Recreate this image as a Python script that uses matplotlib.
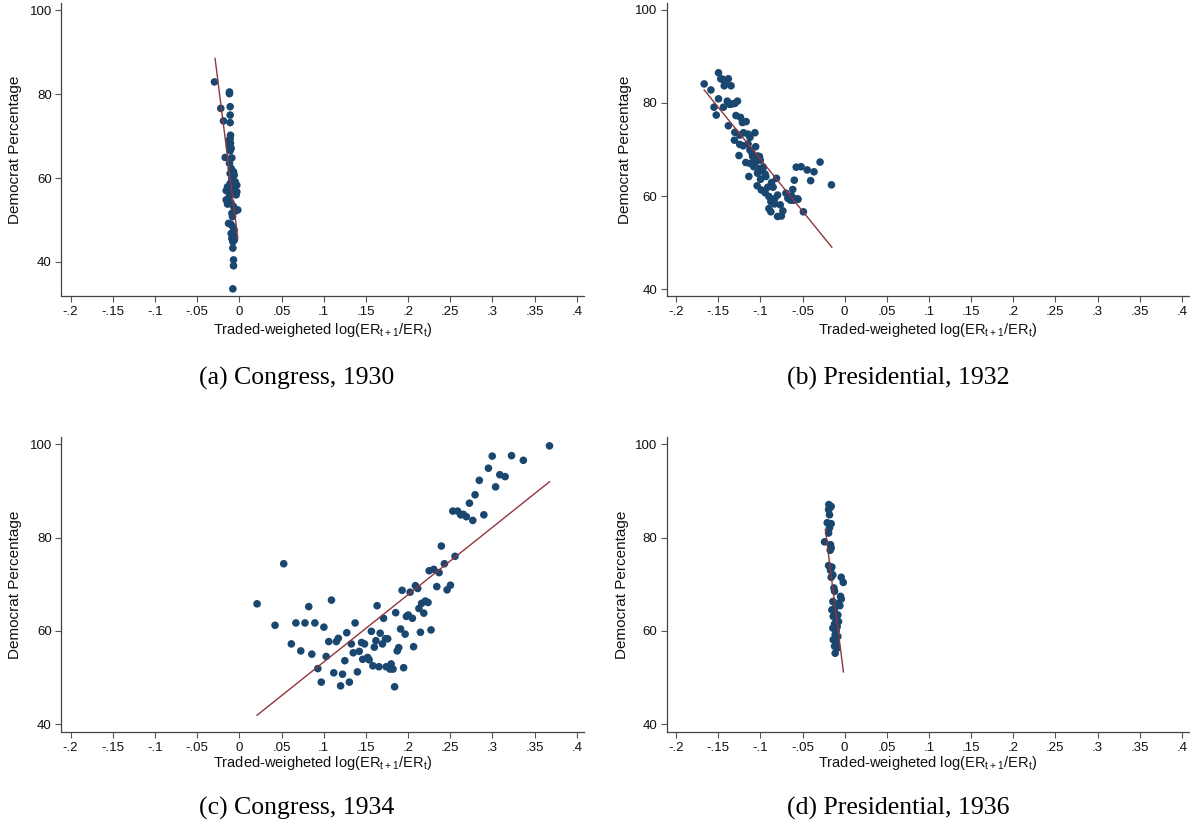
import matplotlib.pyplot as plt
import numpy as np

plt.rcParams['font.family'] = ['Liberation Sans', 'DejaVu Sans']
plt.rcParams['mathtext.default'] = 'regular'

# (a) Congress, 1930
xa = [-0.0295, -0.0220, -0.0188, -0.0168, -0.0117, -0.0117, -0.0109, -0.0109, -0.0109, -0.0105,
      -0.0109, -0.0124, -0.0105, -0.0117, -0.0097, -0.0109, -0.0089, -0.0117, -0.0097, -0.0069,
      -0.0109, -0.0061, -0.0089, -0.0049, -0.0109, -0.0030, -0.0140, -0.0069, -0.0030, -0.0156,
      -0.0089, -0.0117, -0.0038, -0.0156, -0.0128, -0.0097, -0.0140, -0.0069, -0.0018, -0.0049,
      -0.0089, -0.0081, -0.0128, -0.0101, -0.0077, -0.0061, -0.0097, -0.0069, -0.0089, -0.0061,
      -0.0077, -0.0077, -0.0069, -0.0069, -0.0077]
ya = [82.9, 76.6, 73.6, 64.9, 80.5, 80.1, 77.0, 75.0, 73.2, 70.2,
      69.4, 68.9, 68.3, 67.6, 67.1, 66.5, 64.8, 63.5, 62.3, 61.5,
      61.1, 60.7, 59.9, 59.1, 58.7, 58.3, 57.9, 57.5, 56.7, 57.0,
      56.3, 55.7, 56.0, 54.8, 54.4, 54.0, 53.8, 53.2, 52.4, 52.1,
      51.6, 50.8, 49.2, 49.0, 48.4, 47.6, 46.8, 46.4, 45.6, 45.2,
      44.8, 43.3, 40.5, 39.1, 33.6]
fit_a_x = [-0.0288, -0.0018]
fit_a_y = [88.5, 45.6]

# (b) Presidential, 1932
xb = [-0.1667, -0.1587, -0.1497, -0.1470, -0.1447, -0.1416, -0.1429, -0.1380, -0.1348, -0.1497,
      -0.1550, -0.1524, -0.1438, -0.1393, -0.1362, -0.1335, -0.1303, -0.1272, -0.1290, -0.1380,
      -0.1236, -0.1213, -0.1169, -0.1303, -0.1245, -0.1200, -0.1146, -0.1124, -0.1065, -0.1308,
      -0.1245, -0.1204, -0.1146, -0.1124, -0.1101, -0.1056, -0.1254, -0.1092, -0.1034, -0.1011,
      -0.1173, -0.1124, -0.1056, -0.1002, -0.1079, -0.1034, -0.0966, -0.1137, -0.1034, -0.0975,
      -0.0944, -0.0998, -0.0935, -0.1038, -0.0989, -0.0944, -0.0912, -0.0849, -0.0809, -0.0867,
      -0.0899, -0.0876, -0.0831, -0.0796, -0.0899, -0.0876, -0.0831, -0.0796, -0.0751, -0.0764,
      -0.0733, -0.0697, -0.0674, -0.0643, -0.0629, -0.0607, -0.0553, -0.0616, -0.0598, -0.0575,
      -0.0517, -0.0445, -0.0404, -0.0364, -0.0292, -0.0157, -0.0490, -0.0562]
yb = [84.1, 82.8, 86.5, 85.2, 85.1, 84.6, 83.7, 85.2, 83.7, 80.9,
      79.1, 77.4, 79.1, 80.4, 79.7, 79.8, 79.9, 80.4, 77.3, 75.1,
      76.9, 75.8, 76.0, 73.7, 73.1, 73.6, 73.3, 72.6, 73.6, 72.0,
      71.1, 70.8, 71.2, 69.9, 69.3, 70.6, 68.7, 68.5, 68.6, 68.5,
      67.2, 67.0, 67.4, 67.7, 66.3, 66.0, 66.2, 64.2, 64.9, 65.6,
      64.7, 63.6, 64.2, 62.2, 61.3, 60.7, 61.9, 61.9, 63.8, 62.9,
      59.9, 58.8, 59.4, 60.2, 57.3, 56.6, 58.3, 55.6, 55.7, 58.1,
      56.8, 60.6, 59.5, 59.1, 60.0, 59.1, 59.3, 61.4, 63.4, 66.2,
      66.3, 65.6, 63.3, 65.2, 67.3, 62.4, 56.6, 59.4]
fit_b_x = [-0.1667, -0.0153]
fit_b_y = [82.8, 49.0]

# (c) Congress, 1934
xc = [0.0210, 0.0423, 0.0526, 0.0616, 0.0670, 0.0728, 0.0778, 0.0823, 0.0859, 0.0895,
      0.0930, 0.0971, 0.1002, 0.1029, 0.1060, 0.1092, 0.1119, 0.1150, 0.1173, 0.1200,
      0.1223, 0.1250, 0.1273, 0.1304, 0.1327, 0.1350, 0.1372, 0.1399, 0.1421, 0.1448,
      0.1484, 0.1462, 0.1520, 0.1538, 0.1565, 0.1583, 0.1600, 0.1619, 0.1633, 0.1655,
      0.1669, 0.1696, 0.1709, 0.1732, 0.1758, 0.1740, 0.1786, 0.1799, 0.1822, 0.1840,
      0.1853, 0.1871, 0.1889, 0.1911, 0.1929, 0.1947, 0.1965, 0.1980, 0.2002, 0.2024,
      0.2051, 0.2065, 0.2087, 0.2114, 0.2128, 0.2146, 0.2160, 0.2186, 0.2204, 0.2236,
      0.2250, 0.2272, 0.2304, 0.2340, 0.2367, 0.2394, 0.2430, 0.2462, 0.2502, 0.2530,
      0.2556, 0.2587, 0.2624, 0.2655, 0.2691, 0.2727, 0.2767, 0.2794, 0.2844, 0.2898,
      0.2952, 0.2997, 0.3037, 0.3087, 0.3150, 0.3226, 0.3366, 0.3676]
yc = [65.8, 61.2, 74.4, 57.2, 61.7, 55.7, 61.7, 65.2, 55.0, 61.7,
      51.9, 49.0, 60.8, 54.5, 57.7, 66.6, 51.0, 57.7, 58.4, 48.2,
      50.7, 53.6, 59.6, 49.0, 57.2, 55.3, 61.7, 51.2, 55.6, 57.5,
      57.2, 53.9, 54.3, 53.8, 59.9, 52.5, 56.5, 57.9, 65.4, 52.3,
      59.5, 57.2, 62.7, 58.3, 58.3, 52.3, 51.8, 52.9, 51.8, 48.0,
      63.9, 55.7, 56.4, 60.4, 68.7, 52.1, 59.3, 63.1, 63.4, 68.3,
      62.7, 56.6, 69.7, 69.1, 64.8, 59.7, 65.9, 63.8, 66.4, 66.1,
      72.9, 60.2, 73.2, 69.5, 72.5, 78.2, 74.4, 68.8, 69.8, 85.7,
      76.0, 85.7, 84.9, 85.0, 84.5, 87.4, 83.7, 89.2, 92.3, 84.9,
      94.9, 97.5, 90.9, 93.5, 93.1, 97.6, 96.6, 99.7]
fit_c_x = [0.021, 0.3676]
fit_c_y = [41.9, 92.0]

# (d) Presidential, 1936
xd = [-0.0188, -0.0160, -0.0180, -0.0191, -0.0180, -0.0207, -0.0160, -0.0180, -0.0191, -0.0239,
      -0.0168, -0.0160, -0.0172, -0.0191, -0.0152, -0.0168, -0.0140, -0.0160, -0.0041, -0.0017,
      -0.0128, -0.0120, -0.0049, -0.0041, -0.0081, -0.0057, -0.0140, -0.0120, -0.0152, -0.0113,
      -0.0081, -0.0136, -0.0101, -0.0073, -0.0120, -0.0089, -0.0140, -0.0101, -0.0113, -0.0081,
      -0.0136, -0.0101, -0.0120, -0.0089, -0.0113]
yd = [87.1, 86.7, 86.3, 86.0, 84.9, 83.2, 83.0, 82.1, 81.0, 79.1,
      78.5, 77.8, 77.3, 74.0, 73.7, 73.0, 72.0, 71.5, 71.5, 70.4,
      69.2, 68.5, 67.4, 66.8, 65.8, 65.4, 66.3, 64.8, 64.5, 63.8,
      63.4, 63.1, 62.4, 62.0, 61.5, 60.9, 60.6, 59.9, 59.2, 58.8,
      58.1, 57.4, 56.7, 56.3, 55.2]
fit_d_x = [-0.0230, -0.0015]
fit_d_y = [81.8, 51.2]

xticks = [-0.2, -0.15, -0.1, -0.05, 0, 0.05, 0.1, 0.15, 0.2, 0.25, 0.3, 0.35, 0.4]
xticklabels = ['-.2', '-.15', '-.1', '-.05', '0', '.05', '.1', '.15', '.2', '.25', '.3', '.35', '.4']
yticks = [40, 60, 80, 100]
captions = ['(a) Congress, 1930', '(b) Presidential, 1932',
            '(c) Congress, 1934', '(d) Presidential, 1936']

navy = '#1a476f'
maroon = '#90353b'
W, H = 1190, 831

fig = plt.figure(figsize=(W / 100, H / 100), dpi=100)

# axes boxes in pixels: left, right, top, bottom
boxes = [(61.5, 584, 3, 296), (667, 1189, 3, 296),
         (61.5, 584, 437, 732), (667, 1189, 437, 732)]
ylims = [(31.9, 101.7), (38.5, 101.5), (38.3, 101.6), (38.3, 101.6)]
ylab_x = [15, 625, 15, 622]
panels = [(xa, ya, fit_a_x, fit_a_y), (xb, yb, fit_b_x, fit_b_y),
          (xc, yc, fit_c_x, fit_c_y), (xd, yd, fit_d_x, fit_d_y)]
cap_pos = [(297, 378), (898, 378), (297, 808), (898, 808)]

for i, (px, py, fx, fy) in enumerate(panels):
    l, r, t, b = boxes[i]
    ax = fig.add_axes([l / W, 1 - b / H, (r - l) / W, (b - t) / H])
    ax.scatter(px, py, s=30, color=navy, edgecolors='none', zorder=2)
    ax.plot(fx, fy, color=maroon, linewidth=1.0, zorder=3)
    ax.set_xlim(-0.2108, 0.4085)
    ax.set_ylim(*ylims[i])
    ax.set_xticks(xticks)
    ax.set_xticklabels(xticklabels)
    ax.set_yticks(yticks)
    for s in ['top', 'right']:
        ax.spines[s].set_visible(False)
    for s in ['left', 'bottom']:
        ax.spines[s].set_color('#444444')
        ax.spines[s].set_linewidth(0.9)
    ax.tick_params(direction='out', length=4.5, width=0.8, color='#555555',
                   labelsize=9.5, pad=2.5, labelcolor='#111111')
    ax.set_xlabel(r'Traded-weigheted log(ER$_{t+1}$/ER$_{t}$)', fontsize=10.5, color='#111111')
    ax.xaxis.set_label_coords(0.5, -(34 if i < 2 else 31) / (b - t))
    ax.xaxis.label.set_va('center')
    ax.set_ylabel('Democrat Percentage', fontsize=11, color='#111111')
    ax.yaxis.set_label_coords((ylab_x[i] - l) / (r - l), 0.5)
    ax.yaxis.label.set_va('center')
    cx, cy = cap_pos[i]
    fig.text(cx / W, 1 - cy / H, captions[i], ha='center', va='center',
             fontsize=18.5, family=['Liberation Serif', 'DejaVu Serif'])

fig.savefig('out.png', dpi=100)
